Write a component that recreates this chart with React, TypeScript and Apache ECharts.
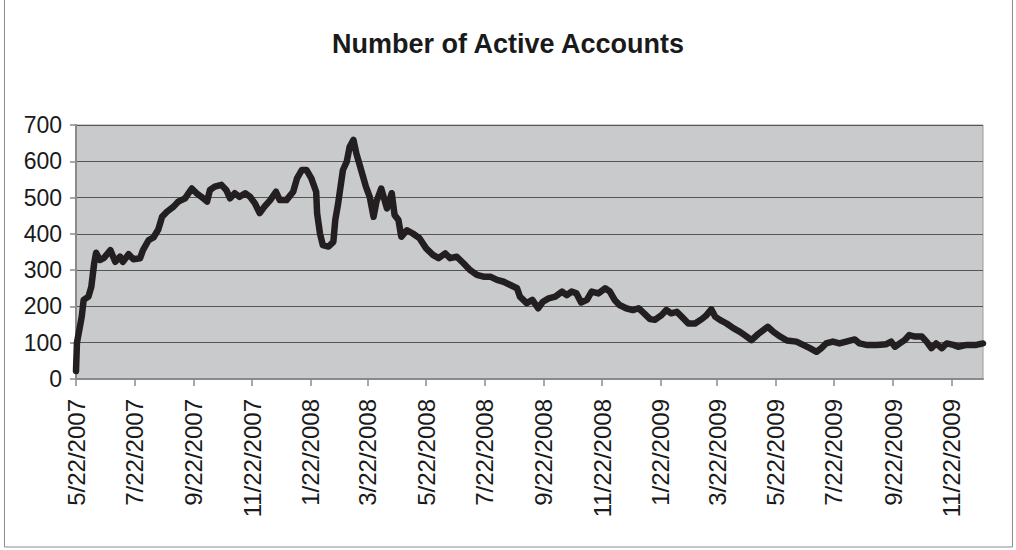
import React, { useEffect, useRef } from "react";
import * as echarts from "echarts";

const titleText = "Number of Active Accounts";

const dates: string[] = [
  "2007-05-22", "2007-05-23", "2007-05-28", "2007-05-30", "2007-06-04", "2007-06-07", "2007-06-10", "2007-06-12",
  "2007-06-16", "2007-06-20", "2007-06-27", "2007-07-02", "2007-07-07", "2007-07-10", "2007-07-16", "2007-07-21",
  "2007-07-28", "2007-07-31", "2007-08-06", "2007-08-11", "2007-08-16", "2007-08-20", "2007-08-25", "2007-09-01",
  "2007-09-06", "2007-09-13", "2007-09-20", "2007-09-25", "2007-09-30", "2007-10-06", "2007-10-09", "2007-10-14",
  "2007-10-21", "2007-10-26", "2007-10-30", "2007-11-04", "2007-11-09", "2007-11-15", "2007-11-20", "2007-11-25",
  "2007-11-30", "2007-12-05", "2007-12-11", "2007-12-17", "2007-12-21", "2007-12-28", "2008-01-04", "2008-01-08",
  "2008-01-13", "2008-01-18", "2008-01-23", "2008-01-28", "2008-01-29", "2008-02-01", "2008-02-04", "2008-02-10",
  "2008-02-15", "2008-02-17", "2008-02-20", "2008-02-25", "2008-02-29", "2008-03-03", "2008-03-07", "2008-03-10",
  "2008-03-16", "2008-03-20", "2008-03-24", "2008-03-28", "2008-03-31", "2008-04-05", "2008-04-11", "2008-04-16",
  "2008-04-19", "2008-04-23", "2008-04-26", "2008-05-02", "2008-05-08", "2008-05-15", "2008-05-22", "2008-05-29",
  "2008-06-04", "2008-06-11", "2008-06-16", "2008-06-23", "2008-06-30", "2008-07-07", "2008-07-14", "2008-07-21",
  "2008-07-28", "2008-08-04", "2008-08-11", "2008-08-18", "2008-08-25", "2008-08-28", "2008-09-04", "2008-09-10",
  "2008-09-16", "2008-09-21", "2008-09-27", "2008-10-04", "2008-10-11", "2008-10-16", "2008-10-21", "2008-10-26",
  "2008-10-31", "2008-11-06", "2008-11-11", "2008-11-18", "2008-11-25", "2008-11-30", "2008-12-05", "2008-12-10",
  "2008-12-17", "2008-12-24", "2008-12-30", "2009-01-04", "2009-01-11", "2009-01-16", "2009-01-23", "2009-01-28",
  "2009-02-02", "2009-02-08", "2009-02-13", "2009-02-20", "2009-02-27", "2009-03-06", "2009-03-11", "2009-03-16",
  "2009-03-20", "2009-03-25", "2009-04-01", "2009-04-08", "2009-04-15", "2009-04-22", "2009-04-27", "2009-05-04",
  "2009-05-14", "2009-05-20", "2009-05-27", "2009-06-03", "2009-06-13", "2009-06-20", "2009-06-27", "2009-07-04",
  "2009-07-09", "2009-07-14", "2009-07-21", "2009-07-28", "2009-08-04", "2009-08-13", "2009-08-18", "2009-08-25",
  "2009-09-05", "2009-09-15", "2009-09-20", "2009-09-24", "2009-09-29", "2009-10-04", "2009-10-09", "2009-10-15",
  "2009-10-22", "2009-10-27", "2009-11-01", "2009-11-06", "2009-11-12", "2009-11-17", "2009-11-24", "2009-11-29",
  "2009-12-08", "2009-12-18", "2009-12-25",
];

const activeAccounts: number[] = [
  22, 100, 172, 218, 227, 254, 319, 348,
  328, 333, 355, 323, 337, 323, 344, 330,
  333, 355, 383, 390, 412, 447, 461, 475,
  489, 498, 525, 512, 502, 489, 521, 530,
  535, 521, 498, 512, 502, 512, 502, 484,
  457, 475, 493, 516, 493, 493, 516, 553,
  576, 576, 553, 516, 457, 401, 369, 365,
  378, 438, 484, 576, 599, 640, 659, 622,
  567, 530, 502, 447, 489, 525, 470, 512,
  452, 438, 392, 410, 401, 388, 360, 342,
  333, 346, 333, 337, 319, 300, 287, 282,
  282, 273, 268, 259, 250, 227, 209, 218,
  195, 213, 222, 227, 241, 231, 241, 236,
  211, 218, 241, 236, 250, 241, 218, 204,
  195, 190, 195, 183, 165, 163, 176, 190,
  181, 185, 172, 153, 153, 165, 176, 192,
  172, 163, 153, 140, 130, 117, 107, 124,
  144, 130, 117, 106, 103, 94, 85, 75,
  85, 98, 103, 98, 103, 109, 98, 94,
  94, 96, 103, 89, 98, 107, 121, 117,
  117, 103, 85, 98, 85, 98, 94, 89,
  94, 94, 98,
];

const xTickLabels: string[] = [
  "5/22/2007", "7/22/2007", "9/22/2007", "11/22/2007", "1/22/2008", "3/22/2008", "5/22/2008", "7/22/2008",
  "9/22/2008", "11/22/2008", "1/22/2009", "3/22/2009", "5/22/2009", "7/22/2009", "9/22/2009", "11/22/2009",
];
const xAxisEnd = "12/25/2009";
const yMin = 0;
const yMax = 700;
const yStep = 100;

function parseMDY(s: string): number {
  const [m, d, y] = s.split("/").map(Number);
  return Date.UTC(y, m - 1, d);
}
function parseISO(s: string): number {
  const [y, m, d] = s.split("-").map(Number);
  return Date.UTC(y, m - 1, d);
}

export default function App() {
  const ref = useRef<HTMLDivElement>(null);

  useEffect(() => {
    if (!ref.current) return;
    const chart = echarts.init(ref.current, null, { renderer: "svg" });
    const tickValues = xTickLabels.map(parseMDY);
    const labelFor = (v: number) => {
      const i = tickValues.findIndex((t) => Math.abs(t - v) < 43200000);
      return i >= 0 ? xTickLabels[i] : "";
    };
    const seriesData = dates.map((d, i) => [parseISO(d), activeAccounts[i]]);

    chart.setOption({
      animation: false,
      backgroundColor: "#ffffff",
      title: {
        text: titleText,
        left: "center",
        top: 25,
        textStyle: {
          fontFamily: "Liberation Sans, Arial, sans-serif",
          fontWeight: "bold",
          fontSize: 27,
          color: "#1a1a1a",
        },
      },
      graphic: [
        {
          type: "rect",
          shape: { x: 4.5, y: -2, width: 1008, height: 549 },
          style: { fill: "none", stroke: "#8c8c8c", lineWidth: 1 },
          silent: true,
        },
      ],
      grid: {
        left: 76,
        right: 33,
        top: 125,
        bottom: 171,
        show: true,
        backgroundColor: "#c9cacb",
        borderColor: "#9a9a9a",
        borderWidth: 1,
      },
      xAxis: {
        type: "value",
        min: tickValues[0],
        max: parseMDY(xAxisEnd),
        axisLine: { show: true, onZero: false, lineStyle: { color: "#8a8a8a", width: 2 } },
        axisTick: {
          show: true,
          length: 7,
          inside: false,
          customValues: tickValues,
          lineStyle: { color: "#8a8a8a", width: 1.5 },
        },
        axisLabel: {
          customValues: tickValues,
          rotate: 90,
          margin: 20,
          fontFamily: "Liberation Sans, Arial, sans-serif",
          fontSize: 24,
          color: "#1a1a1a",
          formatter: (v: number) => labelFor(v),
        },
        splitLine: { show: false },
      },
      yAxis: {
        type: "value",
        min: yMin,
        max: yMax,
        interval: yStep,
        axisLine: { show: true, lineStyle: { color: "#8a8a8a", width: 2 } },
        axisTick: { show: true, length: 6, lineStyle: { color: "#8a8a8a", width: 1.5 } },
        axisLabel: {
          margin: 14,
          fontFamily: "Liberation Sans, Arial, sans-serif",
          fontSize: 23,
          color: "#1a1a1a",
        },
        splitLine: { show: true, lineStyle: { color: "#555555", width: 1 } },
      },
      series: [
        {
          type: "line",
          data: seriesData,
          showSymbol: false,
          symbol: "none",
          lineStyle: { color: "#231f20", width: 6.5, cap: "round", join: "round" },
        },
      ],
    });

    return () => chart.dispose();
  }, []);

  return (
    <div
      ref={ref}
      style={{ position: "fixed", left: 0, top: 0, width: 1016, height: 550 }}
    />
  );
}
